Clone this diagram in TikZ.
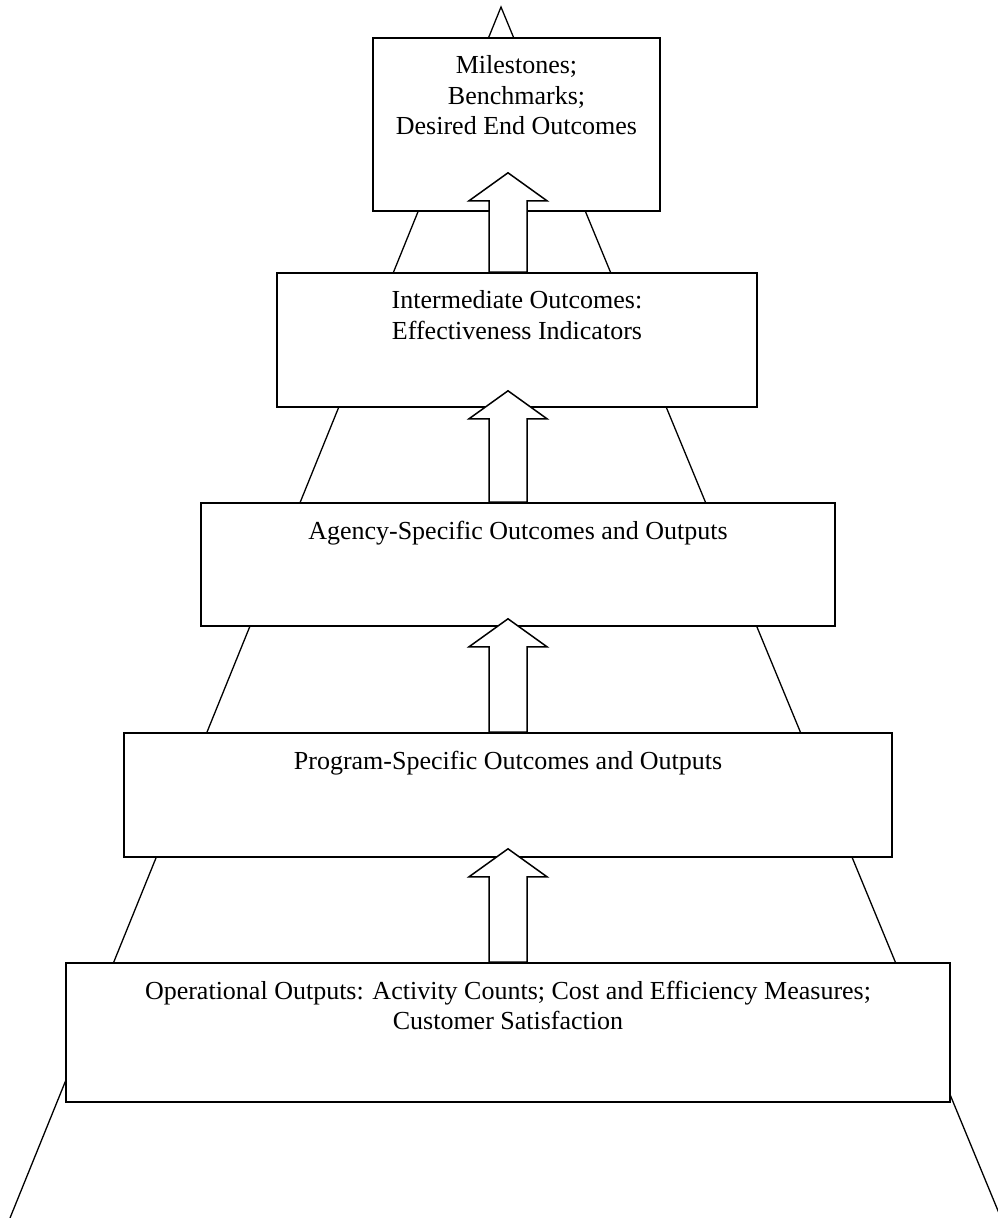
\documentclass[tikz,border=0pt]{standalone}
\usepackage{fontspec}
\setmainfont{Liberation Serif}
\usetikzlibrary{calc}
\tikzset{
  box/.style={draw, fill=white, line width=1.6pt, inner sep=0pt, rectangle},
  boxtext/.style={anchor=north, inner sep=0pt, align=center, font=\fontsize{26}{30.5}\selectfont},
  pyramidline/.style={draw, line width=1.3pt, line join=miter},
  blockarrowstyle/.style={draw, fill=white, line width=1.5pt, line join=miter},
}
% #1 = foot of the shaft, #2 = tip of the arrow
\newcommand{\upblockarrow}[2]{%
  \draw[blockarrowstyle] let \p1=#1, \p2=#2 in
    (\x1-19pt,\y1) -- (\x1-19pt,\y2-28pt) -- (\x1-39pt,\y2-28pt) -- (\x1,\y2)
    -- (\x1+39pt,\y2-28pt) -- (\x1+19pt,\y2-28pt) -- (\x1+19pt,\y1) -- cycle;%
}
\begin{document}
\begin{tikzpicture}[x=1pt, y=-1pt]
\useasboundingbox (0,0) rectangle (997,1218);

% pyramid outline
\coordinate (apex) at (501,7);
\coordinate (baseleft) at (10,1218);
\coordinate (baseright) at (1001,1218);
\draw[pyramidline] (baseleft) -- (apex) -- (baseright);

% boxes
\node[box, minimum width=287pt, minimum height=173pt] (b1) at (516.5,124.5) {};
\node[box, minimum width=480pt, minimum height=134pt] (b2) at (517,340) {};
\node[box, minimum width=634pt, minimum height=123pt] (b3) at (518,564.5) {};
\node[box, minimum width=768pt, minimum height=124pt] (b4) at (508,795) {};
\node[box, minimum width=884pt, minimum height=139pt] (b5) at (508,1032.5) {};

% texts
\node[boxtext] (t1) at ([yshift=-18.5pt]b1.north) {Milestones;\\Benchmarks;\\Desired End Outcomes};
\node[boxtext] (t2) at ([yshift=-18.5pt]b2.north) {Intermediate Outcomes:\\Effectiveness Indicators};
\node[boxtext] (t3) at ([yshift=-18.5pt]b3.north) {Agency-Specific Outcomes and Outputs};
\node[boxtext] (t4) at ([yshift=-18.5pt]b4.north) {Program-Specific Outcomes and Outputs};
\node[boxtext] (t5) at ([yshift=-18.5pt]b5.north) {Operational Outputs: Activity Counts; Cost and Efficiency Measures;\\Customer Satisfaction};

% block arrows
\upblockarrow{(b2.north -| b5.north)}{([yshift=39pt]b1.south -| b5.north)}
\upblockarrow{(b3.north -| b5.north)}{([yshift=17pt]b2.south -| b5.north)}
\upblockarrow{(b4.north -| b5.north)}{([yshift=8pt]b3.south -| b5.north)}
\upblockarrow{(b5.north)}{([yshift=9pt]b4.south -| b5.north)}
\end{tikzpicture}
\end{document}
